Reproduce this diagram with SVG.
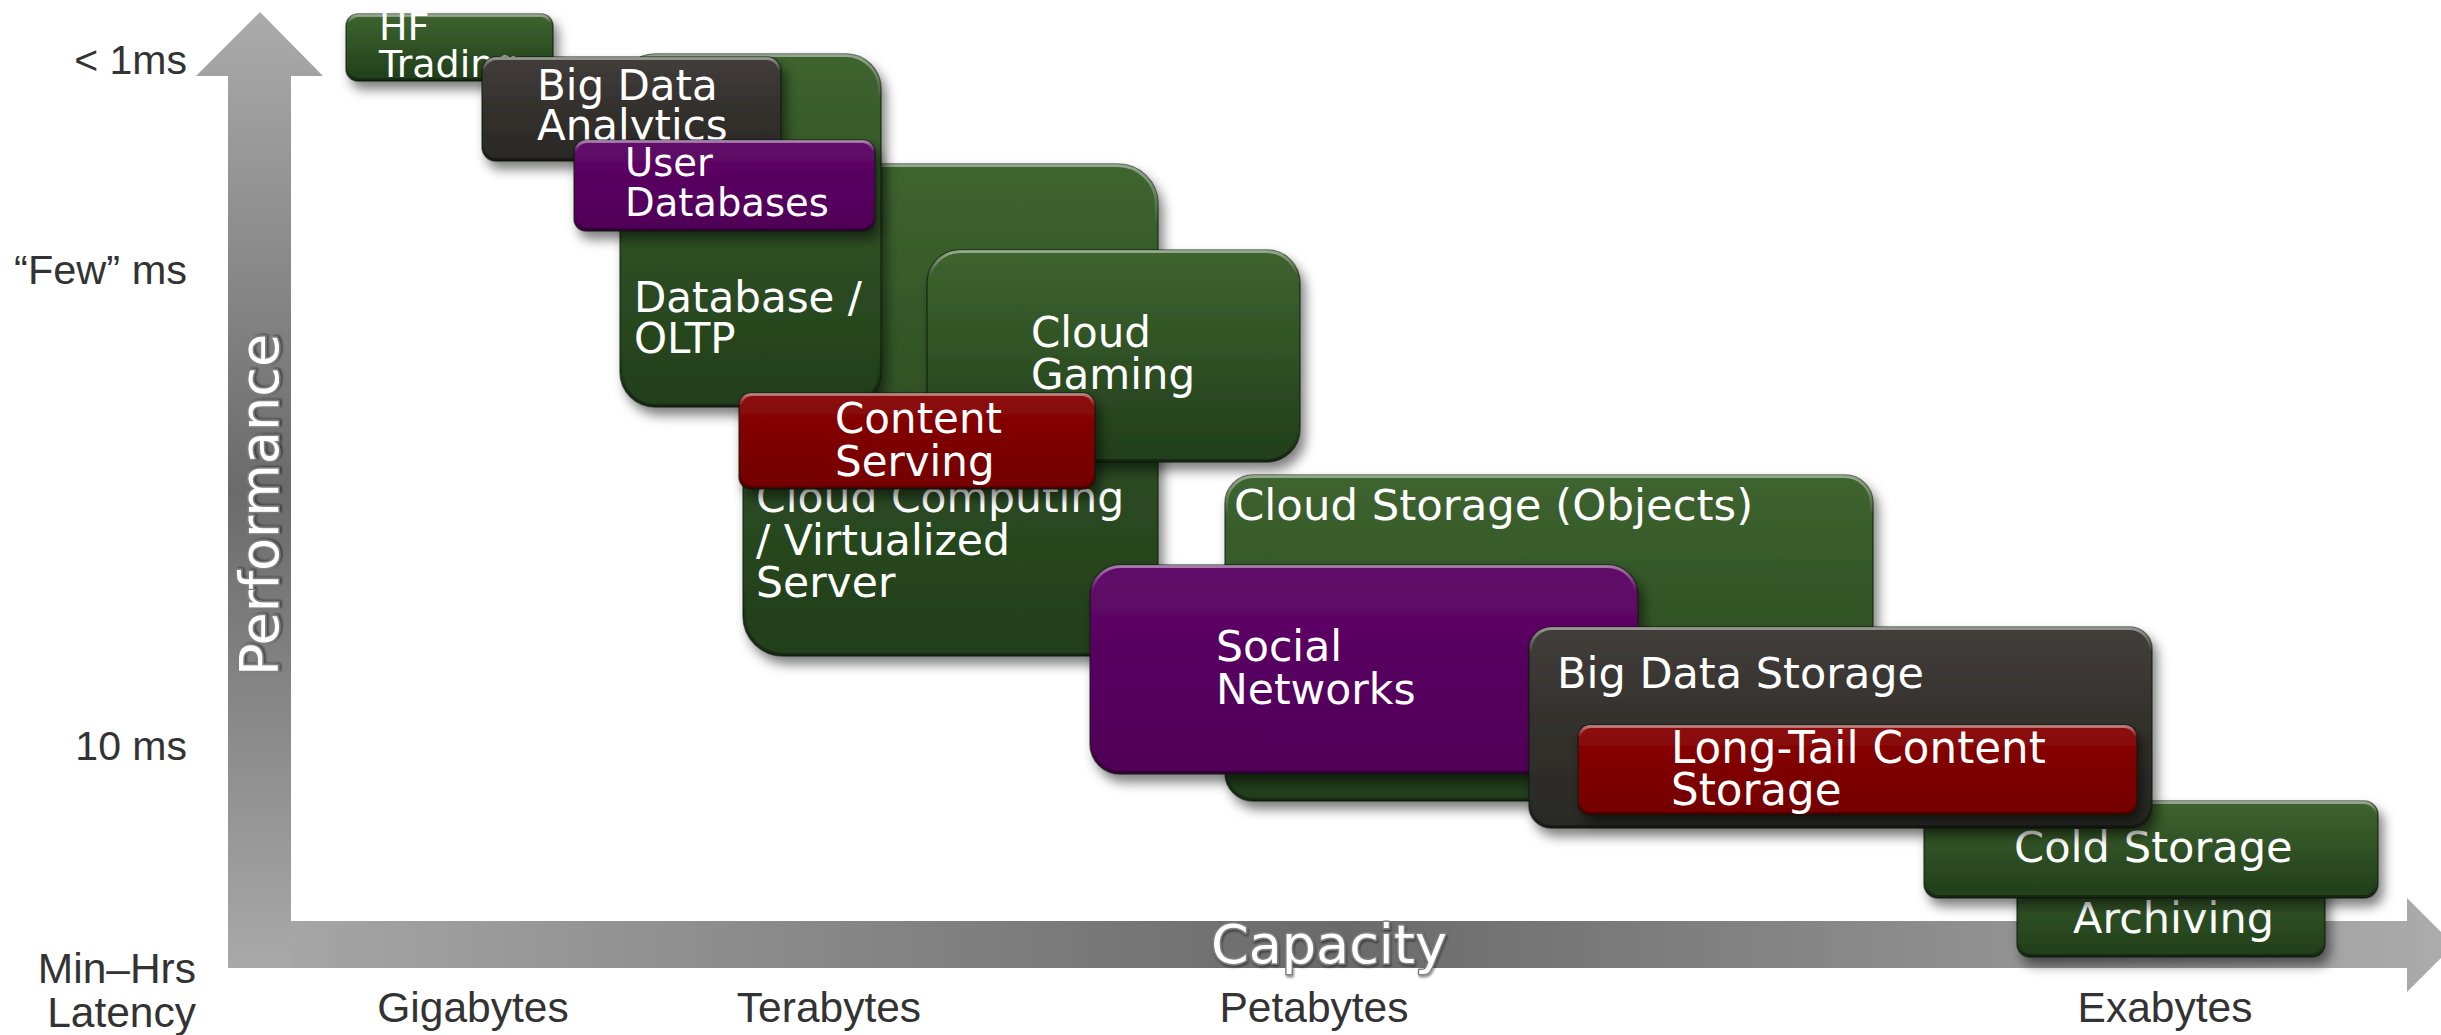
<svg xmlns="http://www.w3.org/2000/svg" width="2441" height="1035" viewBox="0 0 2441 1035">
<defs>
  <linearGradient id="gGreen" x1="0" y1="0" x2="0" y2="1">
    <stop offset="0" stop-color="#3e642f"/>
    <stop offset="0.5" stop-color="#2f5125"/>
    <stop offset="1" stop-color="#213e1a"/>
  </linearGradient>
  <linearGradient id="gPurple" x1="0" y1="0" x2="0" y2="1">
    <stop offset="0" stop-color="#600c68"/>
    <stop offset="0.5" stop-color="#57005f"/>
    <stop offset="1" stop-color="#500057"/>
  </linearGradient>
  <linearGradient id="gRed" x1="0" y1="0" x2="0" y2="1">
    <stop offset="0" stop-color="#8e0c0c"/>
    <stop offset="0.5" stop-color="#7e0000"/>
    <stop offset="1" stop-color="#740000"/>
  </linearGradient>
  <linearGradient id="gDark" x1="0" y1="0" x2="0" y2="1">
    <stop offset="0" stop-color="#423e3a"/>
    <stop offset="0.5" stop-color="#33302d"/>
    <stop offset="1" stop-color="#2a2826"/>
  </linearGradient>
  <linearGradient id="edge" x1="0" y1="0" x2="0" y2="1">
    <stop offset="0" stop-color="#ffffff" stop-opacity="0.45"/>
    <stop offset="0.12" stop-color="#ffffff" stop-opacity="0"/>
    <stop offset="0.85" stop-color="#000000" stop-opacity="0"/>
    <stop offset="1" stop-color="#000000" stop-opacity="0.35"/>
  </linearGradient>
  <linearGradient id="axV" gradientUnits="userSpaceOnUse" x1="0" y1="12" x2="0" y2="968">
    <stop offset="0" stop-color="#ababab"/>
    <stop offset="0.5" stop-color="#6b6b6b"/>
    <stop offset="1" stop-color="#a9a9a9"/>
  </linearGradient>
  <linearGradient id="axH" gradientUnits="userSpaceOnUse" x1="228" y1="0" x2="2454" y2="0">
    <stop offset="0" stop-color="#a9a9a9"/>
    <stop offset="0.5" stop-color="#6a6a6a"/>
    <stop offset="1" stop-color="#acacac"/>
  </linearGradient>
  <filter id="sh" x="-10%" y="-10%" width="130%" height="140%">
    <feDropShadow dx="5" dy="8" stdDeviation="6" flood-color="#000" flood-opacity="0.5"/>
  </filter>
  <filter id="ts" x="-10%" y="-20%" width="120%" height="150%">
    <feDropShadow dx="1" dy="2" stdDeviation="1.2" flood-color="#000" flood-opacity="0.45"/>
  </filter>
</defs>
<style>
  .lbl { font-family: "Liberation Sans", Arial, sans-serif; font-size: 42.5px; fill: #333333; }
  .nt { font-family: "DejaVu Sans", Verdana, sans-serif; font-size: 42px; fill: #ffffff; }
  .box { stroke: #0d150a; stroke-opacity: 0.6; stroke-width: 1.5; filter: url(#sh); }
  .hl { fill: none; stroke: url(#edge); stroke-width: 3; }
  .green { fill: url(#gGreen); }
  .purple { fill: url(#gPurple); }
  .red { fill: url(#gRed); }
  .dark { fill: url(#gDark); }
  .axt { font-family: "DejaVu Sans", Verdana, sans-serif; font-size: 54px; fill: #ffffff; stroke: #808080; stroke-width: 3; paint-order: stroke; stroke-linejoin: round; filter: url(#ts); }
</style>

<g id="axes">
  <polygon fill="url(#axV)" points="260,12 323,76 291,76 291,968 228,968 228,76 196,76"/>
  <polygon fill="url(#axH)" points="291,921 2407,921 2407,898 2454,945 2407,992 2407,968 291,968"/>
  <text class="axt" transform="translate(278,505) rotate(-90)" text-anchor="middle">Performance</text>
  <text class="axt" x="1329" y="963" text-anchor="middle">Capacity</text>
</g>

<g id="axis-labels">
  <text class="lbl" x="187" y="74" text-anchor="end" style="font-size:41px">&lt; 1ms</text>
  <text class="lbl" x="187" y="284" text-anchor="end" style="font-size:41.5px">“Few” ms</text>
  <text class="lbl" x="187" y="760" text-anchor="end" style="font-size:41px">10 ms</text>
  <text class="lbl" x="196" y="983" text-anchor="end">Min–Hrs</text>
  <text class="lbl" x="196" y="1027" text-anchor="end">Latency</text>
  <text class="lbl" x="473" y="1022" text-anchor="middle">Gigabytes</text>
  <text class="lbl" x="829" y="1022" text-anchor="middle">Terabytes</text>
  <text class="lbl" x="1314" y="1022" text-anchor="middle">Petabytes</text>
  <text class="lbl" x="2165" y="1022" text-anchor="middle">Exabytes</text>
</g>

<g id="cloud-computing">
  <rect class="box green" x="743" y="164" width="415" height="492" rx="40"/>
  <rect class="hl" x="744.5" y="165.5" width="412" height="489" rx="39"/>
  <text class="nt" style="font-size:42.5px"><tspan x="756" y="512">Cloud Computing</tspan><tspan x="756" y="555">/ Virtualized</tspan><tspan x="756" y="597">Server</tspan></text>
</g>

<g id="database-oltp">
  <rect class="box green" x="620" y="54" width="261" height="353" rx="35"/>
  <rect class="hl" x="621.5" y="55.5" width="258" height="350" rx="34"/>
  <text class="nt"><tspan x="634" y="312">Database /</tspan><tspan x="634" y="353">OLTP</tspan></text>
</g>

<g id="hf-trading">
  <rect class="box green" x="346" y="14" width="207" height="67" rx="12"/>
  <rect class="hl" x="347.5" y="15.5" width="204" height="64" rx="11"/>
  <text class="nt" style="font-size:38px"><tspan x="379" y="40">HF</tspan><tspan x="379" y="77">Trading</tspan></text>
</g>

<g id="big-data-analytics">
  <rect class="box dark" x="482" y="57" width="299" height="104" rx="14"/>
  <rect class="hl" x="483.5" y="58.5" width="296" height="101" rx="13"/>
  <text class="nt"><tspan x="537" y="100">Big Data</tspan><tspan x="537" y="140">Analytics</tspan></text>
</g>

<g id="user-databases">
  <rect class="box purple" x="574" y="140" width="301" height="91" rx="12"/>
  <rect class="hl" x="575.5" y="141.5" width="298" height="88" rx="11"/>
  <text class="nt" style="font-size:38.5px"><tspan x="625" y="176">User</tspan><tspan x="625" y="216">Databases</tspan></text>
</g>

<g id="cloud-gaming">
  <rect class="box green" x="927" y="250" width="373" height="212" rx="33"/>
  <rect class="hl" x="928.5" y="251.5" width="370" height="209" rx="32"/>
  <text class="nt"><tspan x="1031" y="347">Cloud</tspan><tspan x="1031" y="389">Gaming</tspan></text>
</g>

<g id="content-serving">
  <rect class="box red" x="739" y="393" width="356" height="96" rx="12"/>
  <rect class="hl" x="740.5" y="394.5" width="353" height="93" rx="11"/>
  <text class="nt"><tspan x="835" y="433">Content</tspan><tspan x="835" y="476">Serving</tspan></text>
</g>

<g id="cloud-storage">
  <rect class="box green" x="1225" y="475" width="648" height="326" rx="28"/>
  <rect class="hl" x="1226.5" y="476.5" width="645" height="323" rx="27"/>
  <text class="nt" x="1234" y="520" style="font-size:43.4px">Cloud Storage (Objects)</text>
</g>

<g id="social-networks">
  <rect class="box purple" x="1090" y="565" width="548" height="209" rx="30"/>
  <rect class="hl" x="1091.5" y="566.5" width="545" height="206" rx="29"/>
  <text class="nt" style="font-size:42.5px"><tspan x="1216" y="661">Social</tspan><tspan x="1216" y="704">Networks</tspan></text>
</g>

<g id="archiving">
  <rect class="box green" x="2017" y="860" width="308" height="97" rx="13"/>
  <rect class="hl" x="2018.5" y="861.5" width="305" height="94" rx="12"/>
  <text class="nt" x="2073" y="933" style="font-size:43px">Archiving</text>
</g>

<g id="cold-storage">
  <rect class="box green" x="1924" y="801" width="454" height="97" rx="14"/>
  <rect class="hl" x="1925.5" y="802.5" width="451" height="94" rx="13"/>
  <text class="nt" x="2014" y="862" style="font-size:43.2px">Cold Storage</text>
</g>

<g id="big-data-storage">
  <rect class="box dark" x="1529" y="627" width="623" height="201" rx="22"/>
  <rect class="hl" x="1530.5" y="628.5" width="620" height="198" rx="21"/>
  <text class="nt" x="1557" y="688" style="font-size:43px">Big Data Storage</text>
</g>

<g id="long-tail-content-storage">
  <rect class="box red" x="1578" y="725" width="559" height="90" rx="12"/>
  <rect class="hl" x="1579.5" y="726.5" width="556" height="87" rx="11"/>
  <text class="nt" style="font-size:43.6px"><tspan x="1671" y="763">Long-Tail Content</tspan><tspan x="1671" y="805">Storage</tspan></text>
</g>
</svg>
